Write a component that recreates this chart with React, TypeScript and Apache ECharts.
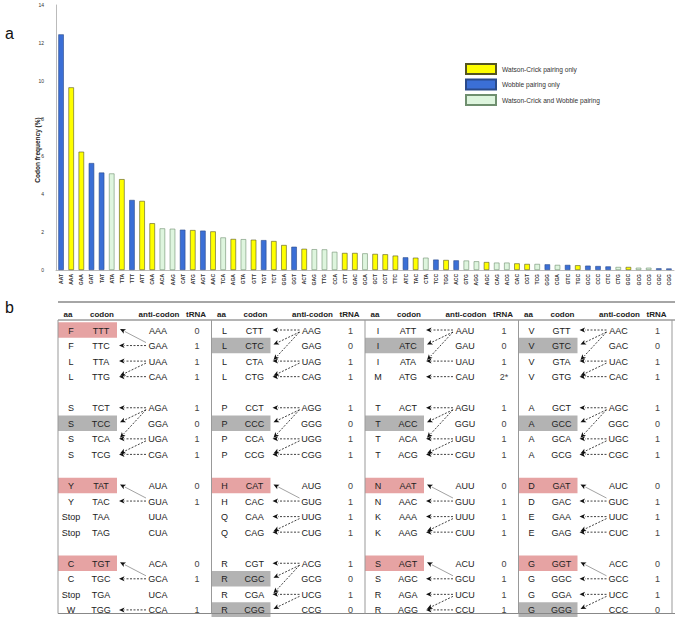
import React, { useEffect, useRef } from "react";
import * as echarts from "echarts";

// ---------- Part a: codon usage ----------
const codons = [
  "AAT","AAA","GAA","GAT","TAT","ATA","TTA","TTT","ATT","CAA","ACA","AAG","CAT","ATG","AGT","AAC",
  "TCA","AGA","GTA","GTT","TGT","TCT","GGA","GGT","ACT","GAG","TTG","CCA","CTT","GAC","GCA","GCT",
  "CCT","TTC","ATC","TAC","CTA","TCC","TGG","ACC","GTG","AGG","AGC","CAG","ACG","CAC","CGT","TCG",
  "GGG","CGA","GTC","TGC","GCC","CCC","CTC","CTG","GGC","GCG","CCG","CGC","CGG",
];
const frequencies = [
  12.45, 9.65, 6.25, 5.65, 5.15, 5.1, 4.8, 3.7, 3.65, 2.47, 2.2, 2.18, 2.13, 2.11, 2.08, 2.04,
  1.72, 1.64, 1.63, 1.6, 1.58, 1.53, 1.32, 1.23, 1.12, 1.1, 1.09, 0.96, 0.9, 0.9, 0.88, 0.85,
  0.83, 0.76, 0.67, 0.65, 0.65, 0.55, 0.53, 0.51, 0.5, 0.46, 0.42, 0.39, 0.39, 0.35, 0.32, 0.32,
  0.3, 0.27, 0.27, 0.25, 0.23, 0.21, 0.19, 0.16, 0.16, 0.12, 0.12, 0.09, 0.08,
];
// Y = Watson-Crick only, B = wobble only, G = both
const pairingType = [
  "B","Y","Y","B","B","G","Y","B","Y","Y","G","G","B","Y","B","Y",
  "G","Y","G","Y","B","Y","Y","B","Y","G","G","G","Y","Y","G","Y",
  "Y","Y","B","Y","G","B","Y","B","G","G","Y","G","G","Y","Y","G",
  "B","G","B","Y","B","B","B","G","Y","G","G","B","B",
];
const pairingNames = ["Watson-Crick pairing only", "Wobble pairing only", "Watson-Crick and Wobble pairing"];
const pairingKeys = ["Y", "B", "G"];
const yTicks = { min: 0, max: 14, interval: 2 };

// ---------- Part b: codon / anticodon table ----------
const headers = ["aa", "codon", "anti-codon", "tRNA"];
const tableAA = [
  ["F","F","L","L","S","S","S","S","Y","Y","Stop","Stop","C","C","Stop","W"],
  ["L","L","L","L","P","P","P","P","H","H","Q","Q","R","R","R","R"],
  ["I","I","I","M","T","T","T","T","N","N","K","K","S","S","R","R"],
  ["V","V","V","V","A","A","A","A","D","D","E","E","G","G","G","G"],
];
const tableCodons = [
  ["TTT","TTC","TTA","TTG","TCT","TCC","TCA","TCG","TAT","TAC","TAA","TAG","TGT","TGC","TGA","TGG"],
  ["CTT","CTC","CTA","CTG","CCT","CCC","CCA","CCG","CAT","CAC","CAA","CAG","CGT","CGC","CGA","CGG"],
  ["ATT","ATC","ATA","ATG","ACT","ACC","ACA","ACG","AAT","AAC","AAA","AAG","AGT","AGC","AGA","AGG"],
  ["GTT","GTC","GTA","GTG","GCT","GCC","GCA","GCG","GAT","GAC","GAA","GAG","GGT","GGC","GGA","GGG"],
];
const tableAnticodons = [
  ["AAA","GAA","UAA","CAA","AGA","GGA","UGA","CGA","AUA","GUA","UUA","CUA","ACA","GCA","UCA","CCA"],
  ["AAG","GAG","UAG","CAG","AGG","GGG","UGG","CGG","AUG","GUG","UUG","CUG","ACG","GCG","UCG","CCG"],
  ["AAU","GAU","UAU","CAU","AGU","GGU","UGU","CGU","AUU","GUU","UUU","CUU","ACU","GCU","UCU","CCU"],
  ["AAC","GAC","UAC","CAC","AGC","GGC","UGC","CGC","AUC","GUC","UUC","CUC","ACC","GCC","UCC","CCC"],
];
const tableTRNA = [
  ["0","1","1","1","1","0","1","1","0","1","","","0","1","","1"],
  ["1","0","1","1","1","0","1","1","0","1","1","1","1","0","1","0"],
  ["1","0","1","2*","1","0","1","1","0","1","1","1","0","1","1","1"],
  ["1","0","1","1","1","0","1","1","0","1","1","1","0","1","1","0"],
];
// r = red shading, g = grey shading
const tableShade = [
  ["r","","","","","g","","","r","","","","r","","",""],
  ["","g","","","","g","","","r","","","","","g","","g"],
  ["","g","","","","g","","","r","","","","r","","",""],
  ["","g","","","","g","","","r","","","","r","","","g"],
];
// [from anticodon row, to codon row, d=dashed / s=solid]
const tableArrows = [
  [[1,0,"s"],[1,1,"d"],[2,2,"d"],[2,3,"d"],[3,3,"d"],
   [4,4,"d"],[4,5,"d"],[4,6,"d"],[6,6,"d"],[6,7,"d"],[7,7,"d"],
   [9,8,"s"],[9,9,"d"],
   [13,12,"s"],[13,13,"d"],[15,15,"d"]],
  [[0,0,"d"],[0,1,"d"],[0,2,"d"],[2,2,"d"],[2,3,"d"],[3,3,"d"],
   [4,4,"d"],[4,5,"d"],[4,6,"d"],[6,6,"d"],[6,7,"d"],[7,7,"d"],
   [9,8,"s"],[9,9,"d"],[10,10,"d"],[10,11,"d"],[11,11,"d"],
   [12,12,"d"],[12,13,"d"],[12,14,"d"],[14,14,"d"],[14,15,"d"]],
  [[0,0,"d"],[0,1,"d"],[0,2,"d"],[2,2,"d"],[3,3,"d"],
   [4,4,"d"],[4,5,"d"],[4,6,"d"],[6,6,"d"],[6,7,"d"],[7,7,"d"],
   [9,8,"s"],[9,9,"d"],[10,10,"d"],[10,11,"d"],[11,11,"d"],
   [13,12,"s"],[13,13,"d"],[14,14,"d"],[14,15,"d"],[15,15,"d"]],
  [[0,0,"d"],[0,1,"d"],[0,2,"d"],[2,2,"d"],[2,3,"d"],[3,3,"d"],
   [4,4,"d"],[4,5,"d"],[4,6,"d"],[6,6,"d"],[6,7,"d"],[7,7,"d"],
   [9,8,"s"],[9,9,"d"],[10,10,"d"],[10,11,"d"],[11,11,"d"],
   [13,12,"s"],[13,13,"d"],[14,14,"d"],[14,15,"d"]],
];

const FONT = "'Liberation Sans', Arial, sans-serif";

function buildTable(): any[] {
  const rects: any[] = [];
  const lines: any[] = [];
  const texts: any[] = [];
  const panelLeft = (k: number) => 58 + k * 153.5;
  const rowY = (i: number) => 330 + (Math.floor(i / 4) * 5 + (i % 4)) * 15.55;
  const off = { aa: 13, codon: 43, anti: 100, trna: 139, tip: 61, start: 88 };
  const headerOff = [10, 44, 101, 138];

  // frame
  lines.push({ type: "line", shape: { x1: 58, y1: 302, x2: 675, y2: 302 }, style: { stroke: "#888", lineWidth: 1.5 } });
  lines.push({ type: "line", shape: { x1: 58, y1: 320, x2: 675, y2: 320 }, style: { stroke: "#444", lineWidth: 0.8 } });
  lines.push({ type: "line", shape: { x1: 58, y1: 613.5, x2: 675, y2: 613.5 }, style: { stroke: "#888", lineWidth: 1.2 } });
  [58, 211.5, 365, 518.5, 672].forEach((x) => {
    lines.push({ type: "line", shape: { x1: x, y1: 320, x2: x, y2: 613.5 }, style: { stroke: "#999", lineWidth: 1 } });
  });

  for (let k = 0; k < 4; k++) {
    const L = panelLeft(k);
    headers.forEach((h, j) => {
      texts.push({
        type: "text", x: L + headerOff[j], y: 314,
        style: { text: h, fill: "#222", font: `bold 8px ${FONT}`, align: "center", verticalAlign: "middle" },
      });
    });
    for (let i = 0; i < 16; i++) {
      const y = rowY(i);
      const sh = tableShade[k][i];
      if (sh) {
        rects.push({
          type: "rect", shape: { x: L, y: y - 7.7, width: 59, height: 15.4 },
          style: { fill: sh === "r" ? "#e6a3a3" : "#b3b3b3" },
        });
      }
      const cells = [tableAA[k][i], tableCodons[k][i], tableAnticodons[k][i], tableTRNA[k][i]];
      const xs = [off.aa, off.codon, off.anti, off.trna];
      cells.forEach((c, j) => {
        if (!c) return;
        texts.push({
          type: "text", x: L + xs[j], y: y + 0.5,
          style: { text: c, fill: j === 3 ? "#444" : "#222", font: `9px ${FONT}`, align: "center", verticalAlign: "middle" },
        });
      });
    }
    tableArrows[k].forEach((a: any) => {
      const [from, to, kind] = a;
      let x1 = L + off.start, y1 = rowY(from), x2 = L + off.tip, y2 = rowY(to);
      if (from !== to) {
        x2 = L + off.tip + 1;
        if (to > from) { y1 += 2; y2 -= 1; } else { y1 -= 3; y2 -= 1; }
      }
      const dx = x2 - x1, dy = y2 - y1;
      const len = Math.sqrt(dx * dx + dy * dy);
      const ux = dx / len, uy = dy / len;
      const hl = 5.5, hw = 2.5;
      const bx = x2 - ux * hl, by = y2 - uy * hl;
      const px = -uy, py = ux;
      lines.push({
        type: "line", shape: { x1, y1, x2: bx, y2: by },
        style: kind === "d"
          ? { stroke: "#111", lineWidth: 0.8, lineDash: [2, 1.5] }
          : { stroke: "#8a8a8a", lineWidth: 0.8 },
      });
      lines.push({
        type: "polygon",
        shape: { points: [[x2, y2], [bx + px * hw, by + py * hw], [bx + ux * 1.3, by + uy * 1.3], [bx - px * hw, by - py * hw]] },
        style: { fill: "#111" },
      });
    });
  }
  return rects.concat(lines, texts);
}

export default function App() {
  const ref = useRef<HTMLDivElement>(null);
  useEffect(() => {
    if (!ref.current) return;
    const chart = echarts.init(ref.current, null, { renderer: "svg" });
    const colors: Record<string, any> = {
      Y: { color: "#ffff00", borderColor: "#555522" },
      B: { color: "#3b6fd6", borderColor: "#2a4a8a" },
      G: { color: "#def5de", borderColor: "#6f8f6f" },
    };
    const series = pairingKeys.map((key, s) => ({
      type: "bar",
      name: pairingNames[s],
      data: frequencies.map((v, i) => (pairingType[i] === key ? v : "-")),
      barWidth: 5.5,
      barGap: "-100%",
      itemStyle: { ...colors[key], borderWidth: 0.6 },
    }));
    chart.setOption({
      animation: false,
      textStyle: { fontFamily: FONT },
      grid: { left: 56, width: 618, top: 5, height: 265 },
      legend: {
        orient: "vertical",
        left: 460,
        top: 58,
        itemWidth: 30,
        itemHeight: 10,
        itemGap: 3.5,
        icon: "rect",
        selectedMode: false,
        data: pairingNames,
        textStyle: { fontSize: 6.6, color: "#333", fontFamily: FONT, padding: [0, 0, 0, 1] },
      },
      xAxis: {
        type: "category",
        data: codons,
        axisLine: { show: true, lineStyle: { color: "#aaa", width: 0.8 } },
        axisTick: { show: false },
        axisLabel: { rotate: 90, fontSize: 5, fontWeight: "bold", color: "#333", margin: 4, interval: 0 },
      },
      yAxis: {
        type: "value",
        min: yTicks.min,
        max: yTicks.max,
        interval: yTicks.interval,
        axisLine: { show: true, lineStyle: { color: "#aaa", width: 0.8 } },
        axisTick: { show: false },
        splitLine: { show: false },
        axisLabel: { fontSize: 5, color: "#333", margin: 12 },
      },
      series,
      graphic: [
        { type: "text", x: 5, y: 33, style: { text: "a", font: `16px ${FONT}`, fill: "#111", verticalAlign: "middle" } },
        { type: "text", x: 5, y: 307, style: { text: "b", font: `16px ${FONT}`, fill: "#111", verticalAlign: "middle" } },
        {
          type: "text", x: 37, y: 150, rotation: Math.PI / 2,
          style: { text: "Codon frequency (%)", font: `bold 6.5px ${FONT}`, fill: "#222", align: "center", verticalAlign: "middle" },
        },
        ...buildTable(),
      ],
    });
    return () => chart.dispose();
  }, []);
  return (
    <div
      ref={ref}
      style={{ position: "fixed", left: 0, top: 0, width: 675, height: 617, background: "#fff" }}
    />
  );
}
